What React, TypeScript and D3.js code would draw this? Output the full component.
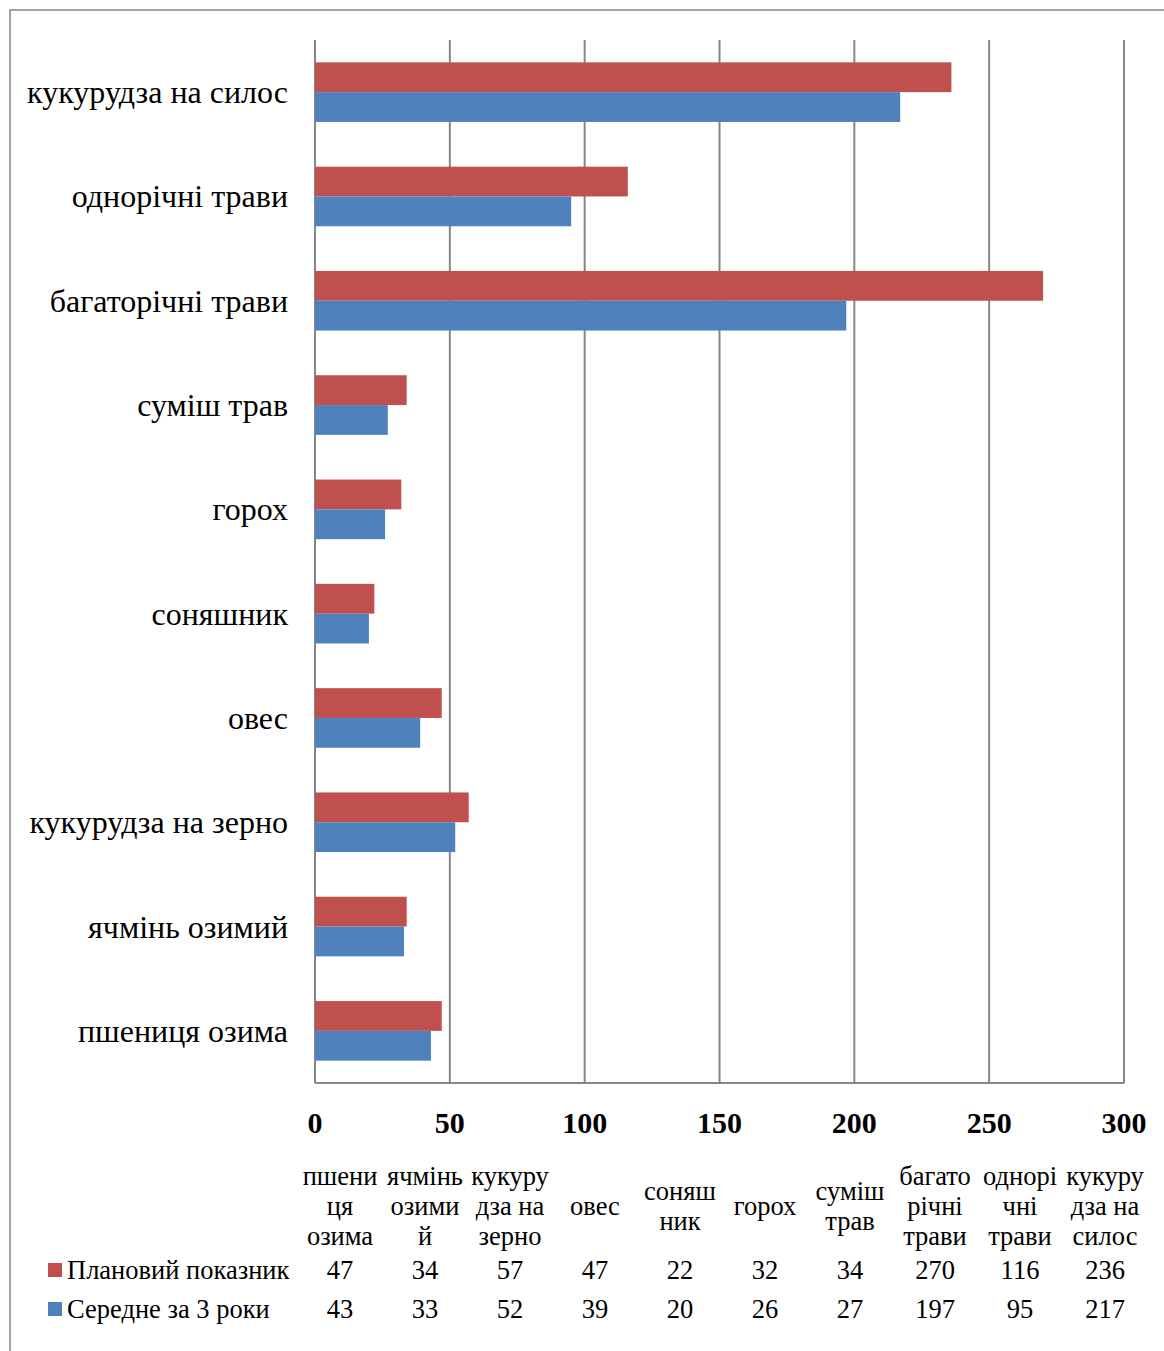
import React from "react";
import * as d3 from "d3";

const categories = [
  "пшениця озима",
  "ячмінь озимий",
  "кукурудза на зерно",
  "овес",
  "соняшник",
  "горох",
  "суміш трав",
  "багаторічні трави",
  "однорічні трави",
  "кукурудза на силос",
];
const tableHeaders = [
  ["пшени", "ця", "озима"],
  ["ячмінь", "озими", "й"],
  ["кукуру", "дза на", "зерно"],
  ["овес"],
  ["соняш", "ник"],
  ["горох"],
  ["суміш", "трав"],
  ["багато", "річні", "трави"],
  ["однорі", "чні", "трави"],
  ["кукуру", "дза на", "силос"],
];
const planned = [47, 34, 57, 47, 22, 32, 34, 270, 116, 236];
const average = [43, 33, 52, 39, 20, 26, 27, 197, 95, 217];
const seriesNames = ["Плановий показник", "Середне за 3 роки"];
const colors = ["#C0504D", "#4F81BD"];
const xTicks = [0, 50, 100, 150, 200, 250, 300];

const W = 1164;
const H = 1351;
const plot = { left: 315, right: 1124, top: 40, bottom: 1083 };
const FONT = "'Liberation Serif', 'Times New Roman', serif";

export default function App() {
  const x = d3.scaleLinear().domain([0, 300]).range([plot.left, plot.right]);
  const y = d3
    .scaleBand<string>()
    .domain([...categories].reverse())
    .range([plot.top, plot.bottom])
    .paddingInner(0.4286)
    .paddingOuter(0.2143);
  const sub = d3.scaleBand<number>().domain([0, 1]).range([0, y.bandwidth()]);
  const series = [planned, average];

  const colX = d3
    .scaleBand<number>()
    .domain(d3.range(categories.length))
    .range([297.5, 1147.5]);

  return (
    <svg
      width={W}
      height={H}
      style={{ position: "absolute", left: 0, top: 0, background: "#fff" }}
      fontFamily={FONT}
    >
      <rect x={10} y={10} width={W} height={H} fill="#fff" stroke="#868686" strokeWidth={1.5} />
      {xTicks.map((t) => (
        <line
          key={t}
          x1={x(t)}
          x2={x(t)}
          y1={plot.top}
          y2={plot.bottom}
          stroke="#868686"
          strokeWidth={2}
        />
      ))}
      <line x1={plot.left} x2={plot.right} y1={plot.bottom} y2={plot.bottom} stroke="#868686" strokeWidth={2} />
      {categories.map((c, i) =>
        series.map((s, si) => (
          <rect
            key={c + si}
            x={x(0)}
            y={(y(c) as number) + (sub(si) as number)}
            width={x(s[i]) - x(0)}
            height={sub.bandwidth()}
            fill={colors[si]}
          />
        ))
      )}
      {categories.map((c) => (
        <text
          key={c}
          x={288}
          y={(y(c) as number) + y.bandwidth() / 2}
          textAnchor="end"
          dominantBaseline="central"
          fontSize={32}
          fill="#000"
        >
          {c}
        </text>
      ))}
      {xTicks.map((t) => (
        <text
          key={t}
          x={x(t)}
          y={1133}
          textAnchor="middle"
          fontSize={30}
          fontWeight="bold"
          fill="#000"
        >
          {t}
        </text>
      ))}
      {tableHeaders.map((lines, i) => {
        const cx = (colX(i) as number) + colX.bandwidth() / 2;
        const startY = 1206 - ((lines.length - 1) * 30) / 2;
        return (
          <text key={i} textAnchor="middle" fontSize={26.5} fill="#000">
            {lines.map((l, li) => (
              <tspan key={li} x={cx} y={startY + li * 30} dominantBaseline="central">
                {l}
              </tspan>
            ))}
          </text>
        );
      })}
      {series.map((s, si) => {
        const ry = si === 0 ? 1270 : 1309;
        return (
          <g key={si}>
            <rect x={48} y={ry - 7} width={14} height={14} fill={colors[si]} />
            <text x={67} y={ry} dominantBaseline="central" fontSize={26.5} fill="#000">
              {seriesNames[si]}
            </text>
            {s.map((v, i) => (
              <text
                key={i}
                x={(colX(i) as number) + colX.bandwidth() / 2}
                y={ry}
                textAnchor="middle"
                dominantBaseline="central"
                fontSize={26.5}
                fill="#000"
              >
                {v}
              </text>
            ))}
          </g>
        );
      })}
    </svg>
  );
}
